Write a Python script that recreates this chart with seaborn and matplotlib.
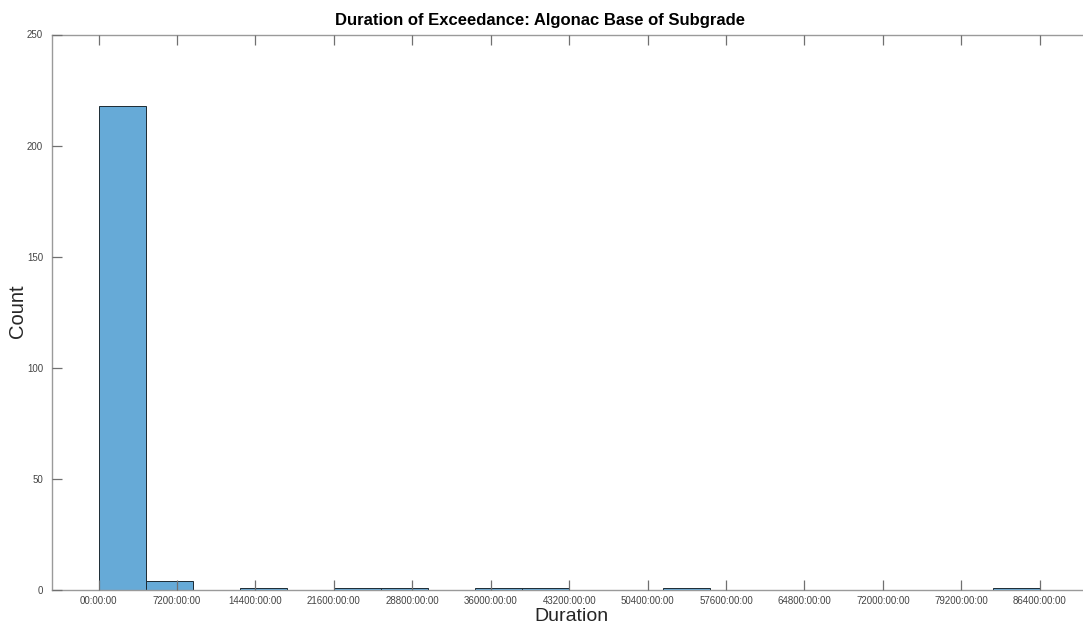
import numpy as np
import pandas as pd
import matplotlib
matplotlib.use("Agg")
import matplotlib.pyplot as plt
import seaborn as sns

# Histogramm-Daten (Dauer in Stunden, Binbreite 4320 h)
bin_start_hours = [0, 4320, 12960, 21600, 25920, 34560, 38880, 51840, 82080]
bin_counts = [218, 4, 1, 1, 1, 1, 1, 1, 1]
bin_width = 4320
tick_hours = [0, 7200, 14400, 21600, 28800, 36000, 43200, 50400, 57600, 64800, 72000, 79200, 86400]
y_ticks = [0, 50, 100, 150, 200, 250]

df = pd.DataFrame({"hours": np.array(bin_start_hours) + bin_width / 2, "count": bin_counts})

sns.set_style("white")
plt.rcParams["font.family"] = ["Liberation Sans", "DejaVu Sans"]

fig = plt.figure(figsize=(10.83, 6.25), dpi=100)
W, H = 1083, 625
ax = fig.add_axes([51.5 / W, 35 / H, (1086.8 - 51.5) / W, (590 - 34.5) / H])

sns.histplot(data=df, x="hours", weights="count", binwidth=bin_width, binrange=(0, 86400),
             color="#66aad7", alpha=1.0, edgecolor="#1c2a33", linewidth=0.7, ax=ax)

ax.set_xlim(-4320, 90720)
ax.set_ylim(0, 250)

grey = "#9a9a9a"
for side in ["left", "bottom", "top"]:
    ax.spines[side].set_visible(True)
    ax.spines[side].set_color(grey)
    ax.spines[side].set_linewidth(1.0)
ax.spines["right"].set_visible(False)

ax.set_xticks(tick_hours)
ax.set_xticklabels(["00:00:00" if h == 0 else f"{h}:00:00" for h in tick_hours])
ax.set_yticks(y_ticks)
ax.tick_params(axis="both", direction="in", length=7, width=0.9, color="#707070",
               labelsize=7, labelcolor="#444444", pad=4)
ax.tick_params(axis="x", top=True, bottom=True)
ax.tick_params(axis="y", left=True, right=False, pad=6)

ax.set_xlabel("Duration", fontsize=14, color="#262626")
ax.set_ylabel("Count", fontsize=14.5, color="#262626")
# Achsentitel-Positionen wie im Original (in Achsenkoordinaten)
ax.xaxis.set_label_coords((571 - 51.5) / (1086.8 - 51.5), -0.033)
ax.yaxis.set_label_coords(-0.0235, (590 - 311) / (590 - 34.5))
ax.set_title("Duration of Exceedance: Algonac Base of Subgrade", fontsize=12,
             fontweight="bold", color="black", pad=7)
ax.title.set_x((540 - 51.5) / (1086.8 - 51.5))
ax.set_axisbelow(False)

fig.savefig("out.png", dpi=100)
